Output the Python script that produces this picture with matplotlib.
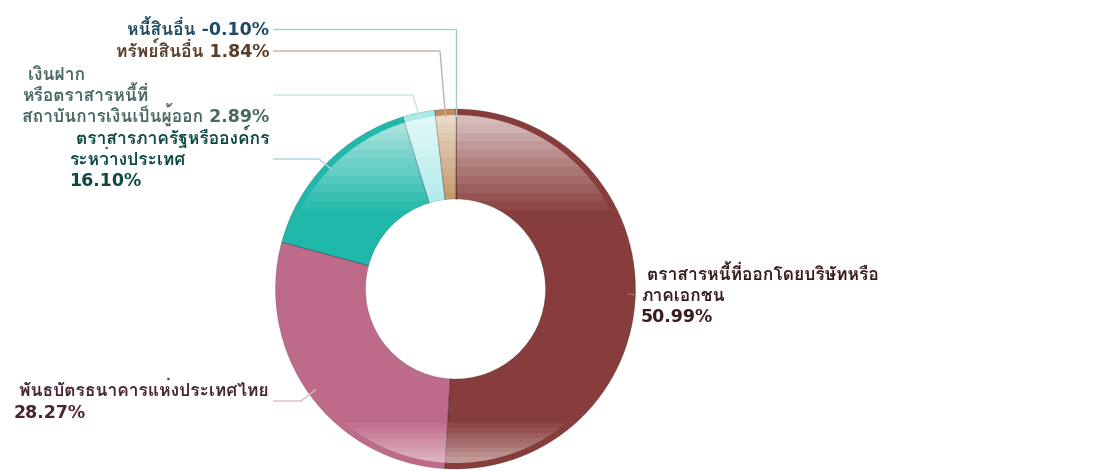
import numpy as np
import matplotlib
matplotlib.use("Agg")
import matplotlib.pyplot as plt
from matplotlib.patches import Wedge

# ---- data ----
labels = [
    " ตราสารหนี้ที่ออกโดยบริษัทหรือ\nภาคเอกชน\n50.99%",
    " พันธบัตรธนาคารแห่งประเทศไทย\n28.27%",
    " ตราสารภาครัฐหรือองค์กร\nระหว่างประเทศ\n16.10%",
    " เงินฝาก\nหรือตราสารหนี้ที่\nสถาบันการเงินเป็นผู้ออก 2.89%",
    "ทรัพย์สินอื่น 1.84%",
    "หนี้สินอื่น -0.10%",
]
values = [50.99, 28.27, 16.10, 2.89, 1.84, -0.10]
colors = ["#873D3B", "#BE6A8A", "#1FB8AA", "#A8EAEA", "#BF8C58", "#5A9AB0"]
text_colors = ["#3A1C1E", "#4A2436", "#0E4A44", "#4A6866", "#5A3E28", "#1E4A66"]
line_colors = ["#A06868", "#D8B8C8", "#A8D8D4", "#C8E4E4", "#C8B0A0", "#A8C8D4"]

W, H = 1096, 471
fig = plt.figure(figsize=(W / 100, H / 100), dpi=100)
ax = fig.add_axes([0, 0, 1, 1])

def py(y):  # pixel-from-top -> data y
    return H - y

cx, cy = 455.5, py(289)
R, r_in = 180, 90

pie_vals = np.clip(values, 0, None)
wedges, _ = ax.pie(pie_vals, colors=colors, startangle=90, counterclock=False,
                   radius=R, center=(cx, cy), frame=True,
                   wedgeprops=dict(width=R - r_in, edgecolor=(0, 0, 0, 0.18), linewidth=0.6))
ax.set_xlim(0, W)
ax.set_ylim(0, H)
ax.set_aspect("equal")
ax.axis("off")

# glossy banded highlight (white, varying by height)
rows = np.arange(H)  # pixel rows from top
alpha = np.zeros(H, dtype=float)
top0, top1 = 112, 218
m = (rows >= top0) & (rows <= top1)
alpha[m] = 0.74 * (top1 - rows[m]) / (top1 - top0)
b0, b1 = 418, 468
m = rows >= b0
alpha[m] = 0.62 * np.clip((rows[m] - b0) / (b1 - b0), 0, 1)
alpha = np.floor(alpha / 0.06) * 0.06  # banded steps
img = np.ones((H, 1, 4))
img[:, 0, 3] = alpha
im = ax.imshow(img, extent=(0, W, 0, H), aspect="auto", interpolation="nearest", zorder=3)
clip = Wedge((cx, cy), R - 6, 0, 360, width=R - 6 - r_in, transform=ax.transData)
im.set_clip_path(clip)
ax.set_xlim(0, W)
ax.set_ylim(0, H)
for w in wedges:
    w.set_zorder(2)
for w in wedges:
    for th in (w.theta1, w.theta2):
        t = np.deg2rad(th)
        ax.plot([cx + r_in * np.cos(t), cx + R * np.cos(t)],
                [cy + r_in * np.sin(t), cy + R * np.sin(t)],
                color=(0, 0, 0, 0.12), lw=0.6, zorder=4)

# label positions (pixels) and leader elbows
text_x = [641, 269, 269, 269, 269, 269]
text_y = [295, 401, 159, 95, 51, 29]
elbow_x = [636, 301, 319, 413, 440, 455.5]
ha = ["left", "right", "right", "right", "right", "right"]
line_start_x = [641, 273, 273, 273, 273, 273]
pitch = 21
font = dict(fontsize=12.5, fontweight="bold", family=["DejaVu Sans", "Loma"])

renderer = fig.canvas.get_renderer()
for i, w in enumerate(wedges):
    t = np.deg2rad((w.theta1 + w.theta2) / 2)
    ax_, ay_ = cx + 172 * np.cos(t), cy + 172 * np.sin(t)
    ey = py(text_y[i])
    if i == 0:
        xs = [ax_, elbow_x[i]]
        ys_ = [ay_, ey]
    else:
        xs = [ax_, elbow_x[i], line_start_x[i]]
        ys_ = [ay_, ey, ey]
    ax.plot(xs, ys_, color=line_colors[i], lw=1.0, zorder=5, solid_capstyle="butt")

    lines = labels[i].split("\n")
    n = len(lines)
    objs = []
    for k, s in enumerate(lines):
        yc = text_y[i] + (k - (n - 1) / 2) * pitch
        objs.append(ax.text(0, py(yc + 6), s, ha="left", va="baseline",
                            color=text_colors[i], zorder=6, **font))
    widths = [o.get_window_extent(renderer).width for o in objs]
    left = text_x[i] if ha[i] == "left" else text_x[i] - max(widths)
    for o in objs:
        o.set_x(left)

fig.savefig("out.png", dpi=100)
